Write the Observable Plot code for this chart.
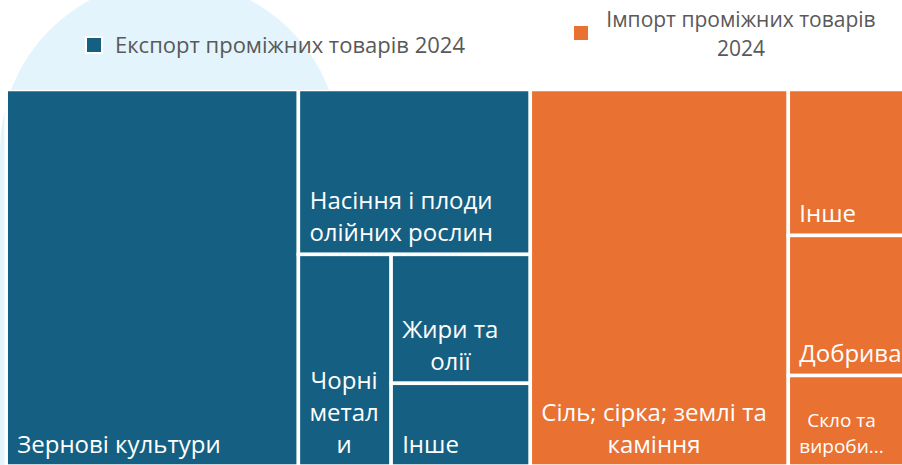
<!DOCTYPE html>
<html><head><meta charset="utf-8">
<script src="https://cdn.jsdelivr.net/npm/d3@7"></script>
<script src="https://cdn.jsdelivr.net/npm/@observablehq/plot@0.6"></script>
<style>
body{margin:0;background:#fff;font-family:"Open Sans",sans-serif}
#wrap{position:relative;width:902px;height:465px;overflow:hidden}
#arch{position:absolute;left:0px;top:-20px;width:340px;height:700px;border-radius:170px 170px 0 0;background:#e3f4fc}
#head{position:relative;height:90px}
.lg{position:absolute;color:#595959;font-size:22px;line-height:27px;white-space:nowrap}
.sw{position:absolute;width:14px;height:14px;box-shadow:0 0 0 2px #fff}
#chart{position:relative}
</style></head>
<body><div id="wrap"><div id="arch"></div><div id="head"></div><div id="chart"></div></div>
<script>
const groups = ["Експорт проміжних товарів 2024", "Імпорт проміжних товарів 2024"];
const importLegendLines = ["Імпорт проміжних товарів", "2024"];
const exportLabels = ["Зернові культури", "Насіння і плоди\nолійних рослин", "Чорні\nметал\nи", "Жири та\nолії", "Інше"];
const exportValues = [32.5, 11.3, 5.8, 5.3, 3.4];
const importLabels = ["Сіль; сірка; землі та\nкаміння", "Інше", "Добрива", "Скло та\nвироби..."];
const importValues = [28.7, 5.0, 4.8, 3.1];
const colors = ["#156082", "#E97132"];

// legend
const head = document.getElementById("head");
head.innerHTML = `
 <div class="sw" style="left:87px;top:38px;background:${colors[0]}"></div>
 <div class="lg" style="left:115px;top:31px">${groups[0]}</div>
 <div class="sw" style="left:574px;top:26px;background:${colors[1]};box-shadow:none"></div>
 <div class="lg" style="left:596px;top:5px;width:290px;text-align:center;font-size:21px;line-height:29px">${importLegendLines[0]}</div>
 <div class="lg" style="left:596px;top:34px;width:290px;text-align:center;font-size:21px;line-height:29px">${importLegendLines[1]}</div>`;

// hierarchy
const data = {children: [
  {name: groups[0], children: exportLabels.map((l, i) => ({name: l, value: exportValues[i], group: groups[0]}))},
  {name: groups[1], children: importLabels.map((l, i) => ({name: l, value: importValues[i], group: groups[1]}))}
]};
const root = d3.hierarchy(data).sum(d => d.value || 0).sort((a, b) => b.value - a.value);

function tileBinary(parent, x0, y0, x1, y1) {
  const nodes = parent.children, n = nodes.length, sums = new Array(n + 1);
  for (let sum = sums[0] = 0, i = 0; i < n; ++i) sums[i + 1] = sum += nodes[i].value;
  partition(0, n, parent.value, x0, y0, x1, y1);
  function partition(i, j, value, x0, y0, x1, y1) {
    if (i >= j - 1) { const nd = nodes[i]; nd.x0 = x0; nd.y0 = y0; nd.x1 = x1; nd.y1 = y1; return; }
    const off = sums[i], target = value / 2 + off;
    let k = i + 1, hi = j - 1;
    while (k < hi) { const mid = (k + hi) >>> 1; if (sums[mid] < target) k = mid + 1; else hi = mid; }
    if ((target - sums[k - 1]) < (sums[k] - target) && i + 1 < k) --k;
    const vl = sums[k] - off, vr = value - vl;
    if ((x1 - x0) > 0.9 * (y1 - y0)) {
      const xk = (x0 * vr + x1 * vl) / value;
      partition(i, k, vl, x0, y0, xk, y1); partition(k, j, vr, xk, y0, x1, y1);
    } else {
      const yk = (y0 * vr + y1 * vl) / value;
      partition(i, k, vl, x0, y0, x1, yk); partition(k, j, vr, x0, yk, x1, y1);
    }
  }
}

const W = 898, H = 376.5;
d3.treemap().tile(tileBinary).size([W, H]).round(false)(root);
const leaves = root.leaves();

const FONT = "Open Sans";
const fs = d => d.data.name.endsWith("...") ? 19 : 24;
const ctx = document.createElement("canvas").getContext("2d");
const pxPerUnit = (904.25 - 6.25) / W;
function blockWidth(d) {
  ctx.font = `${fs(d)}px "${FONT}"`;
  return d3.max(d.data.name.split("\n"), s => ctx.measureText(s).width);
}
const pad = 10.5;

const chart = Plot.plot({
  width: 902, height: 375,
  margin: 0,
  style: {background: "transparent", fontFamily: FONT},
  x: {domain: [0, W], range: [6.25, 904.25], axis: null},
  y: {domain: [0, H], range: [-0.5, 376], axis: null},
  color: {domain: groups, range: colors},
  marks: [
    Plot.rect(leaves, {x1: "x0", x2: "x1", y1: "y0", y2: "y1", fill: d => d.data.group, stroke: "white", strokeWidth: 3.5}),
    Plot.text(leaves, {
      x: d => d.x0 + (pad + blockWidth(d) / 2) / pxPerUnit,
      y: "y1",
      text: d => d.data.name,
      fontSize: fs,
      fill: "white",
      textAnchor: "middle",
      lineAnchor: "bottom",
      lineHeight: 1.33,
      dy: -14
    })
  ]
});
document.getElementById("chart").appendChild(chart);
</script>
</body></html>
